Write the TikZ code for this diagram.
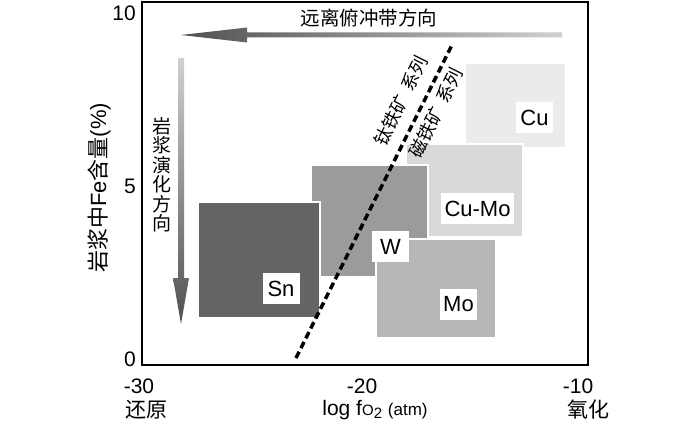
\documentclass[tikz,border=0pt]{standalone}
\usepackage{fontspec}
\setmainfont{Liberation Sans}
\newfontfamily\cjk{Noto Sans CJK SC}
\definecolor{cSn}{HTML}{656565}
\definecolor{cW}{HTML}{9B9B9B}
\definecolor{cMo}{HTML}{B7B7B7}
\definecolor{cCuMo}{HTML}{D9D9D9}
\definecolor{cCu}{HTML}{EBEBEB}
\definecolor{arrdark}{HTML}{505050}
\definecolor{arrlight}{HTML}{D0D0D0}
\begin{document}
\begin{tikzpicture}[x=1pt,y=-1pt,
  region/.style={draw=white, line width=1.5pt},
  lbl/.style={fill=white, font=\fontsize{22}{24}\selectfont, minimum width=37pt, minimum height=31pt, inner xsep=3.5pt, inner ysep=0pt},
  tick/.style={font=\fontsize{21}{23}\selectfont, inner sep=0pt},
  cjklbl/.style={font=\cjk\fontsize{21}{23}\selectfont, inner sep=0pt},
  series/.style={font=\cjk\fontsize{18}{20}\selectfont, inner sep=0pt, rotate=63.5},
  boundary/.style={line width=3.5pt, dash pattern=on 7pt off 4pt},
  frame/.style={line width=2.8pt}
]
\useasboundingbox (0,0) rectangle (700,425);

% regions
\filldraw[region, fill=cCu] (465,63) rectangle (566,148);
\filldraw[region, fill=cCuMo] (406,144) rectangle (523,237);
\filldraw[region, fill=cW] (311,165) rectangle (428,277);
\filldraw[region, fill=cMo] (376,239) rectangle (496,338);
\filldraw[region, fill=cSn] (198,202) rectangle (320,318);

% region labels
\node[lbl] (cu) at (534.5,117.5) {Cu};
\node[lbl] (cumo) at (477.5,208.5) {Cu-Mo};
\node[lbl] (w) at (390.5,246.5) {W};
\node[lbl] (mo) at (458.5,304) {Mo};
\node[lbl] (sn) at (281,288.5) {Sn};

% boundary line
\coordinate (d1) at (296,358);
\coordinate (d2) at (453,43);
\draw[boundary] (d1) -- (d2);
\node[series] (ilm) at (401,101) {钛铁矿\hspace{0.45em}系列};
\node[series] (mag) at (436,113) {磁铁矿\hspace{0.45em}系列};

% frame
\draw[frame] (142,2) rectangle (588,365);

% horizontal gradient arrow
\shade[left color=arrdark, right color=arrlight]
  (181,35) -- (247,27.5) -- (247,32.5) -- (562,32.5) -- (562,37.5) -- (247,37.5) -- (247,42.5) -- cycle;
\node[font=\cjk\fontsize{19.5}{22}\selectfont, inner sep=0pt] (away) at (369,18) {远离俯冲带方向};

% vertical gradient arrow
\shade[top color=arrlight, bottom color=arrdark]
  (178,58) -- (184,58) -- (184,278) -- (189,278) -- (181,324) -- (173,278) -- (178,278) -- cycle;
\node[font=\cjk\fontsize{19}{19.5}\selectfont, align=center, inner sep=0pt] (evo) at (162,175) {岩\\浆\\演\\化\\方\\向};

% y ticks
\node[tick, anchor=east] (y10) at (136,13) {10};
\node[tick, anchor=east] (y5) at (136,186) {5};
\node[tick, anchor=east] (y0) at (136,359) {0};

% x ticks
\node[tick] (x30) at (139,386) {-30};
\node[tick] (x20) at (362,386) {-20};
\node[tick] (x10) at (578,386) {-10};

\node[cjklbl] (red) at (146,410) {还原};
\node[cjklbl] (ox) at (588,410) {氧化};
\node[inner sep=0pt] (xlab) at (375,410) {\fontsize{21}{23}\selectfont log f{\fontsize{15}{17}\selectfont O\raisebox{-3.5pt}{2}} {\fontsize{17}{19}\selectfont (atm)}};

% y axis label
\node[rotate=90, inner sep=0pt, font=\fontsize{22}{24}\selectfont] (ylab) at (99,188) {{\cjk 岩浆中}Fe{\cjk 含量}(\%)};
\end{tikzpicture}
\end{document}
